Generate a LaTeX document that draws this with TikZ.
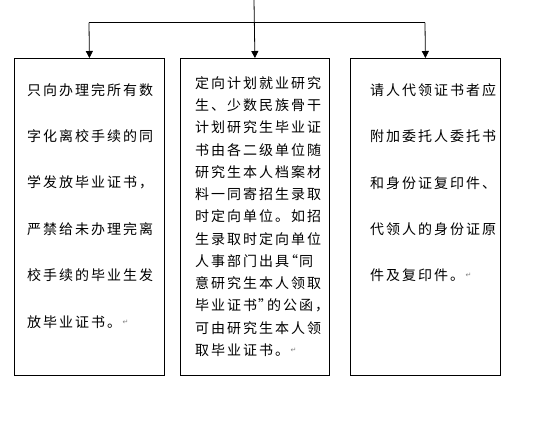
\documentclass[tikz,border=0pt]{standalone}
\usepackage{fontspec}
\newfontfamily\cjk{Noto Sans CJK SC}
\newfontfamily\symf{DejaVu Sans}
\usetikzlibrary{arrows.meta}
\newcommand\spacedloop[1]{%
  \ifx\relax#1\else
    \ifx“#1\makebox[8pt][r]{#1}\else\ifx”#1\makebox[8pt][l]{#1}\else\makebox[16pt]{#1}\fi\fi
    \expandafter\spacedloop\fi}
\newcommand\spaced[1]{\expandafter\spacedloop#1\relax}
\tikzset{
  boxnode/.style={draw, line width=0.8pt, anchor=north west, inner sep=0pt,
    minimum width=150pt, minimum height=317pt},
  linetext/.style={anchor=west, inner sep=0pt, font=\cjk\fontsize{14}{16}\selectfont},
  retm/.style={anchor=west, inner sep=0pt, text=gray, font=\symf\fontsize{7}{8}\selectfont},
  arr/.style={line width=0.8pt, -{Triangle[width=7pt,length=7pt]}},
  conn/.style={line width=0.8pt}
}
\begin{document}
\begin{tikzpicture}[x=1pt,y=-1pt]
\useasboundingbox (0,0) rectangle (533,424);
% boxes
\node[boxnode] (lb) at (14,58) {};
\node[boxnode, minimum width=149pt] (mb) at (180,58) {};
\node[boxnode] (rb) at (350,58) {};
% connectors
\coordinate (top) at (254,0);
\coordinate (jl) at (89,22.7);
\coordinate (jr) at (425,22.7);
\draw[arr] (top) -- (mb.north);
\draw[conn] (jl) -- (jr);
\draw[arr] (jl) -- (lb.north);
\draw[arr] (jr) -- (rb.north);
% left text
\foreach [count=\i] \t in {只向办理完所有数,字化离校手续的同,学发放毕业证书，,严禁给未办理完离,校手续的毕业生发,放毕业证书。}
  \node[linetext] (L\i) at (26,{90+46.4*(\i-1)}) {\spaced{\t}};
\node[retm] (Lr) at (L6.east) {↵};
% middle text
\foreach [count=\i] \t in {定向计划就业研究,生、少数民族骨干,计划研究生毕业证,书由各二级单位随,研究生本人档案材,料一同寄招生录取,时定向单位。如招,生录取时定向单位,人事部门出具“同,意研究生本人领取,毕业证书”的公函，,可由研究生本人领,取毕业证书。}
  \node[linetext] (M\i) at (194,{83+22.25*(\i-1)}) {\spaced{\t}};
\node[retm] (Mr) at (M13.east) {↵};
% right text
\foreach [count=\i] \t in {请人代领证书者应,附加委托人委托书,和身份证复印件、,代领人的身份证原,件及复印件。}
  \node[linetext] (R\i) at (369,{90+46.4*(\i-1)}) {\spaced{\t}};
\node[retm] (Rr) at (R5.east) {↵};
\end{tikzpicture}
\end{document}
